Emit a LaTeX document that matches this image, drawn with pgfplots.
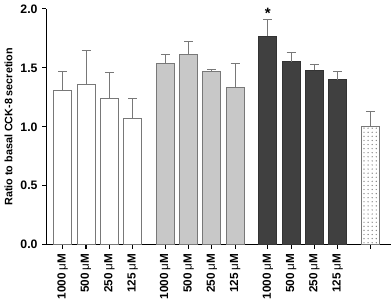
\documentclass[border=0pt]{standalone}
\usepackage{pgfplots}
\pgfplotsset{compat=1.18}
\usepackage{fontspec}
\setmainfont{Liberation Sans}
\usetikzlibrary{patterns}
\definecolor{lgray}{RGB}{200,200,200}
\definecolor{dgray}{RGB}{64,64,64}
\definecolor{egray}{RGB}{120,120,120}
\begin{document}
\begin{tikzpicture}
\begin{axis}[
  scale only axis, width=253pt, height=173pt,
  xmin=-0.7, xmax=14.1, ymin=0, ymax=2.0,
  axis x line*=bottom, axis y line*=left,
  axis line style={line width=1pt, black},
  every tick/.style={black, line width=0.8pt},
  tick align=outside, major tick length=3pt,
  font=\fontsize{9}{11}\selectfont\bfseries,
  ytick={0,0.5,1.0,1.5,2.0},
  yticklabel style={font=\fontsize{9}{11}\selectfont\bfseries, /pgf/number format/.cd, fixed, fixed zerofill, precision=1, assume math mode=true},
  ylabel={Ratio to basal CCK-8 secretion},
  ylabel style={font=\fontsize{7.9}{9}\selectfont\bfseries, yshift=-1pt},
  xtick={0,1,2,3,4.4,5.4,6.4,7.4,8.8,9.8,10.8,11.8,13.2},
  xticklabels={1000 {\mdseries μ}M,500 {\mdseries μ}M,250 {\mdseries μ}M,125 {\mdseries μ}M,1000 {\mdseries μ}M,500 {\mdseries μ}M,250 {\mdseries μ}M,125 {\mdseries μ}M,1000 {\mdseries μ}M,500 {\mdseries μ}M,250 {\mdseries μ}M,125 {\mdseries μ}M,{}},
  xticklabel style={rotate=90, anchor=east, font=\fontsize{8.6}{9}\selectfont\bfseries},
  ybar, bar width=0.77, bar shift=0pt,
  error bars/error bar style={egray, line width=0.7pt},
  error bars/error mark options={egray, line width=0.7pt, rotate=90, mark size=3.3pt},
  clip=false,
]
\addplot[fill=white, draw=egray, line width=0.7pt,
  error bars/.cd, y dir=plus, y explicit]
  coordinates {(0,1.31) +- (0,0.16) (1,1.36) +- (0,0.29) (2,1.24) +- (0,0.22) (3,1.07) +- (0,0.17)};
\addplot[fill=lgray, draw=egray, line width=0.7pt,
  error bars/.cd, y dir=plus, y explicit]
  coordinates {(4.4,1.54) +- (0,0.07) (5.4,1.61) +- (0,0.11) (6.4,1.47) +- (0,0.02) (7.4,1.33) +- (0,0.21)};
\addplot[fill=dgray, draw=dgray!80!black, line width=0.7pt,
  error bars/.cd, y dir=plus, y explicit]
  coordinates {(8.8,1.77) +- (0,0.14) (9.8,1.55) +- (0,0.08) (10.8,1.48) +- (0,0.05) (11.8,1.40) +- (0,0.07)};
\addplot[fill=white, draw=egray, line width=0.7pt,
  postaction={pattern=dots, pattern color=gray},
  error bars/.cd, y dir=plus, y explicit]
  coordinates {(13.2,1.00) +- (0,0.13)};
\node[font=\fontsize{11}{11}\selectfont\bfseries] at (axis cs:8.8,1.96) {*};
\end{axis}
\end{tikzpicture}
\end{document}
